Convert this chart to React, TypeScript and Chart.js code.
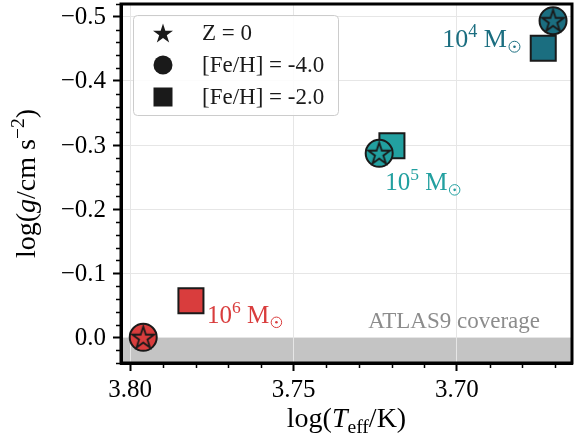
import React, { useEffect, useRef } from 'react';
import { Chart, registerables } from 'chart.js';

Chart.register(...registerables);

// ---- data ----
const massExponents = ['6', '5', '4'];
const massColors = ['#d93d3d', '#22a0a0', '#1b6e80'];
const zeroZx = [3.796, 3.7238, 3.6706];
const zeroZy = [0.0, -0.287, -0.494];
const feh4x = [3.796, 3.7238, 3.6706];
const feh4y = [0.0, -0.287, -0.494];
const feh2x = [3.7814, 3.7199, 3.6736];
const feh2y = [-0.057, -0.299, -0.451];
const legendLabels = ['Z = 0', '[Fe/H] = -4.0', '[Fe/H] = -2.0'];
const xTicks = [3.8, 3.75, 3.7];
const yTicks = [-0.5, -0.4, -0.3, -0.2, -0.1, 0.0];
const xTickLabels = ['3.80', '3.75', '3.70'];
const yTickLabels = ['\u22120.5', '\u22120.4', '\u22120.3', '\u22120.2', '\u22120.1', '0.0'];
const xRange = [3.6648, 3.8028];
const yRange = [-0.52, 0.04];
const atlasLimit = 0.0;
const atlasLabel = 'ATLAS9 coverage';

const FONT = '"Liberation Serif", "DejaVu Serif", serif';
const EDGE = '#1a1a1a';

function starPath(ctx: CanvasRenderingContext2D, cx: number, cy: number, R: number) {
  const r = R * 0.381966;
  ctx.beginPath();
  for (let i = 0; i < 10; i++) {
    const rad = i % 2 === 0 ? R : r;
    const ang = -Math.PI / 2 + (i * Math.PI) / 5;
    const px = cx + rad * Math.cos(ang);
    const py = cy + rad * Math.sin(ang);
    if (i === 0) ctx.moveTo(px, py);
    else ctx.lineTo(px, py);
  }
  ctx.closePath();
}

function makeStar(fill: string, R: number, lw: number) {
  const size = Math.ceil(2 * (R + lw) + 4);
  const c = document.createElement('canvas');
  c.width = size;
  c.height = size;
  const g = c.getContext('2d')!;
  starPath(g, size / 2, size / 2 + 0.8, R);
  g.fillStyle = fill;
  g.fill();
  g.lineWidth = lw;
  g.lineJoin = 'miter';
  g.strokeStyle = EDGE;
  g.stroke();
  return c;
}

type Seg = { t?: string; it?: boolean; sup?: boolean; sub?: boolean; sun?: boolean };

function segFont(s: Seg, size: number) {
  const sz = s.sup || s.sub ? size * 0.7 : size;
  return `${s.it ? 'italic ' : ''}${sz}px ${FONT}`;
}

function segWidth(ctx: CanvasRenderingContext2D, s: Seg, size: number) {
  if (s.sun) return size * 0.55;
  ctx.font = segFont(s, size);
  return ctx.measureText(s.t || '').width;
}

function drawRich(ctx: CanvasRenderingContext2D, segs: Seg[], x: number, y: number, size: number, color: string, align: 'left' | 'center' | 'right') {
  const widths = segs.map((s) => segWidth(ctx, s, size));
  const total = widths.reduce((a, b) => a + b, 0);
  let cx = align === 'left' ? x : align === 'center' ? x - total / 2 : x - total;
  ctx.save();
  ctx.fillStyle = color;
  ctx.strokeStyle = color;
  ctx.textAlign = 'left';
  ctx.textBaseline = 'alphabetic';
  segs.forEach((s, i) => {
    if (s.sun) {
      const r = size * 0.21;
      const ccx = cx + size * 0.08 + r;
      const ccy = y - size * 0.02;
      ctx.lineWidth = 1;
      ctx.beginPath();
      ctx.arc(ccx, ccy, r, 0, Math.PI * 2);
      ctx.stroke();
      ctx.beginPath();
      ctx.arc(ccx, ccy, 1.3, 0, Math.PI * 2);
      ctx.fill();
    } else {
      ctx.font = segFont(s, size);
      const dy = s.sup ? -size * 0.4 : s.sub ? size * 0.2 : 0;
      ctx.fillText(s.t || '', cx, y + dy);
    }
    cx += widths[i];
  });
  ctx.restore();
}

const customPlugin = {
  id: 'custom',
  beforeDraw(chart: any) {
    const { ctx, chartArea: a } = chart;
    const y = chart.scales.y;
    const y0 = y.getPixelForValue(atlasLimit);
    ctx.save();
    ctx.fillStyle = '#c4c4c4';
    ctx.fillRect(a.left, y0, a.right - a.left, a.bottom - y0);
    ctx.restore();
  },
  afterDraw(chart: any) {
    const { ctx, chartArea: a } = chart;
    const xs = chart.scales.x;
    const ys = chart.scales.y;
    ctx.save();

    // minor ticks
    ctx.strokeStyle = '#000';
    ctx.lineWidth = 1.5;
    ctx.beginPath();
    for (let k = 367; k <= 380; k++) {
      if (k % 5 === 0) continue;
      const px = Math.round(xs.getPixelForValue(k / 100)) + 0.5;
      ctx.moveTo(px, a.bottom);
      ctx.lineTo(px, a.bottom + 5);
    }
    for (let k = -26; k <= 2; k++) {
      if (k % 5 === 0) continue;
      const py = Math.round(ys.getPixelForValue(k / 50)) + 0.5;
      ctx.moveTo(a.left, py);
      ctx.lineTo(a.left - 5, py);
    }
    ctx.stroke();

    // spines
    ctx.lineWidth = 3;
    ctx.strokeStyle = '#000';
    ctx.strokeRect(a.left, a.top, a.right - a.left, a.bottom - a.top);

    // tick labels
    ctx.fillStyle = '#000';
    ctx.font = `25px ${FONT}`;
    ctx.textAlign = 'center';
    ctx.textBaseline = 'alphabetic';
    xTicks.forEach((v, i) => ctx.fillText(xTickLabels[i], xs.getPixelForValue(v), a.bottom + 34));
    ctx.textAlign = 'right';
    ctx.textBaseline = 'middle';
    yTicks.forEach((v, i) => ctx.fillText(yTickLabels[i], a.left - 15, ys.getPixelForValue(v) + 1));

    // ATLAS9 label
    ctx.font = `23px ${FONT}`;
    ctx.fillStyle = '#8c8c8c';
    ctx.textAlign = 'right';
    ctx.textBaseline = 'alphabetic';
    ctx.fillText(atlasLabel, a.right - 32, ys.getPixelForValue(atlasLimit) - 9);

    // mass annotations
    const sq = chart.getDatasetMeta(2).data;
    const ci = chart.getDatasetMeta(1).data;
    massExponents.forEach((e, i) => {
      const segs: Seg[] = [{ t: '10' }, { t: e, sup: true }, { t: ' M' }, { sun: true }];
      if (i === 0) drawRich(ctx, segs, sq[i].x + 16, sq[i].y + 22, 25, massColors[i], 'left');
      else if (i === 1) drawRich(ctx, segs, ci[i].x + 6, ci[i].y + 37, 25, massColors[i], 'left');
      else drawRich(ctx, segs, sq[i].x - 22, sq[i].y - 1, 26, massColors[i], 'right');
    });

    // legend
    const bx = a.left + 12;
    const by = a.top + 11;
    ctx.beginPath();
    (ctx as any).roundRect(bx + 0.5, by + 0.5, 205, 100, 4);
    ctx.fillStyle = 'rgba(255,255,255,0.85)';
    ctx.fill();
    ctx.lineWidth = 1;
    ctx.strokeStyle = '#cccccc';
    ctx.stroke();
    const mx = bx + 30;
    const rows = [by + 18, by + 50, by + 82];
    ctx.fillStyle = EDGE;
    starPath(ctx, mx, rows[0] + 1, 10.5);
    ctx.fill();
    ctx.beginPath();
    ctx.arc(mx, rows[1], 9.5, 0, Math.PI * 2);
    ctx.fill();
    ctx.fillRect(mx - 9.5, rows[2] - 9.5, 19, 19);
    ctx.font = `23px ${FONT}`;
    ctx.textAlign = 'left';
    ctx.textBaseline = 'middle';
    ctx.fillStyle = EDGE;
    legendLabels.forEach((l, i) => ctx.fillText(l, bx + 69, rows[i] + 1));

    // axis titles
    drawRich(
      ctx,
      [{ t: 'log(' }, { t: 'T', it: true }, { t: 'eff', sub: true }, { t: '/K)' }],
      (a.left + a.right) / 2,
      427,
      28,
      '#000',
      'center'
    );
    ctx.save();
    ctx.translate(35, (a.top + a.bottom) / 2);
    ctx.rotate(-Math.PI / 2);
    drawRich(
      ctx,
      [{ t: 'log(' }, { t: 'g', it: true }, { t: '/cm s' }, { t: '\u22122', sup: true }, { t: ')' }],
      0,
      0,
      28,
      '#000',
      'center'
    );
    ctx.restore();

    ctx.restore();
  },
};

export default function App() {
  const ref = useRef<HTMLCanvasElement | null>(null);
  useEffect(() => {
    if (!ref.current) return;
    const starImgs = massColors.map((c) => makeStar(c, 11.5, 1.8));
    const chart = new Chart(ref.current, {
      type: 'scatter',
      data: {
        datasets: [
          {
            label: legendLabels[0],
            data: zeroZx.map((x, i) => ({ x, y: zeroZy[i] })),
            pointStyle: starImgs as any,
            pointRadius: 12,
            clip: false as any,
          },
          {
            label: legendLabels[1],
            data: feh4x.map((x, i) => ({ x, y: feh4y[i] })),
            pointStyle: 'circle',
            pointRadius: 13.5,
            backgroundColor: massColors,
            borderColor: EDGE,
            borderWidth: 2,
            clip: false as any,
          },
          {
            label: legendLabels[2],
            data: feh2x.map((x, i) => ({ x, y: feh2y[i] })),
            pointStyle: 'rect',
            pointRadius: 17.7,
            backgroundColor: massColors,
            borderColor: EDGE,
            borderWidth: 2,
            clip: false as any,
          },
        ],
      },
      options: {
        responsive: false,
        animation: false,
        devicePixelRatio: 1,
        events: [],
        layout: { autoPadding: false, padding: { top: 4, right: 2, left: 0, bottom: 0 } },
        plugins: { legend: { display: false }, tooltip: { enabled: false } },
        scales: {
          x: {
            type: 'linear',
            reverse: true,
            min: xRange[0],
            max: xRange[1],
            afterBuildTicks: (s: any) => {
              s.ticks = xTicks.map((v) => ({ value: v }));
            },
            afterFit: (s: any) => {
              s.height = 77;
            },
            ticks: { display: false },
            grid: { color: '#e6e6e6', lineWidth: 1, tickColor: '#000', tickWidth: 2, tickLength: 8 },
            border: { color: '#000', width: 3 },
          },
          y: {
            type: 'linear',
            reverse: true,
            min: yRange[0],
            max: yRange[1],
            afterBuildTicks: (s: any) => {
              s.ticks = yTicks.map((v) => ({ value: v }));
            },
            afterFit: (s: any) => {
              s.width = 121;
            },
            ticks: { display: false },
            grid: { color: '#e6e6e6', lineWidth: 1, tickColor: '#000', tickWidth: 2, tickLength: 8 },
            border: { color: '#000', width: 3 },
          },
        },
      },
      plugins: [customPlugin],
    });
    return () => chart.destroy();
  }, []);
  return (
    <div style={{ position: 'absolute', left: 0, top: 0, width: 574, height: 440, background: '#fff' }}>
      <canvas ref={ref} width={574} height={440} style={{ display: 'block' }} />
    </div>
  );
}
